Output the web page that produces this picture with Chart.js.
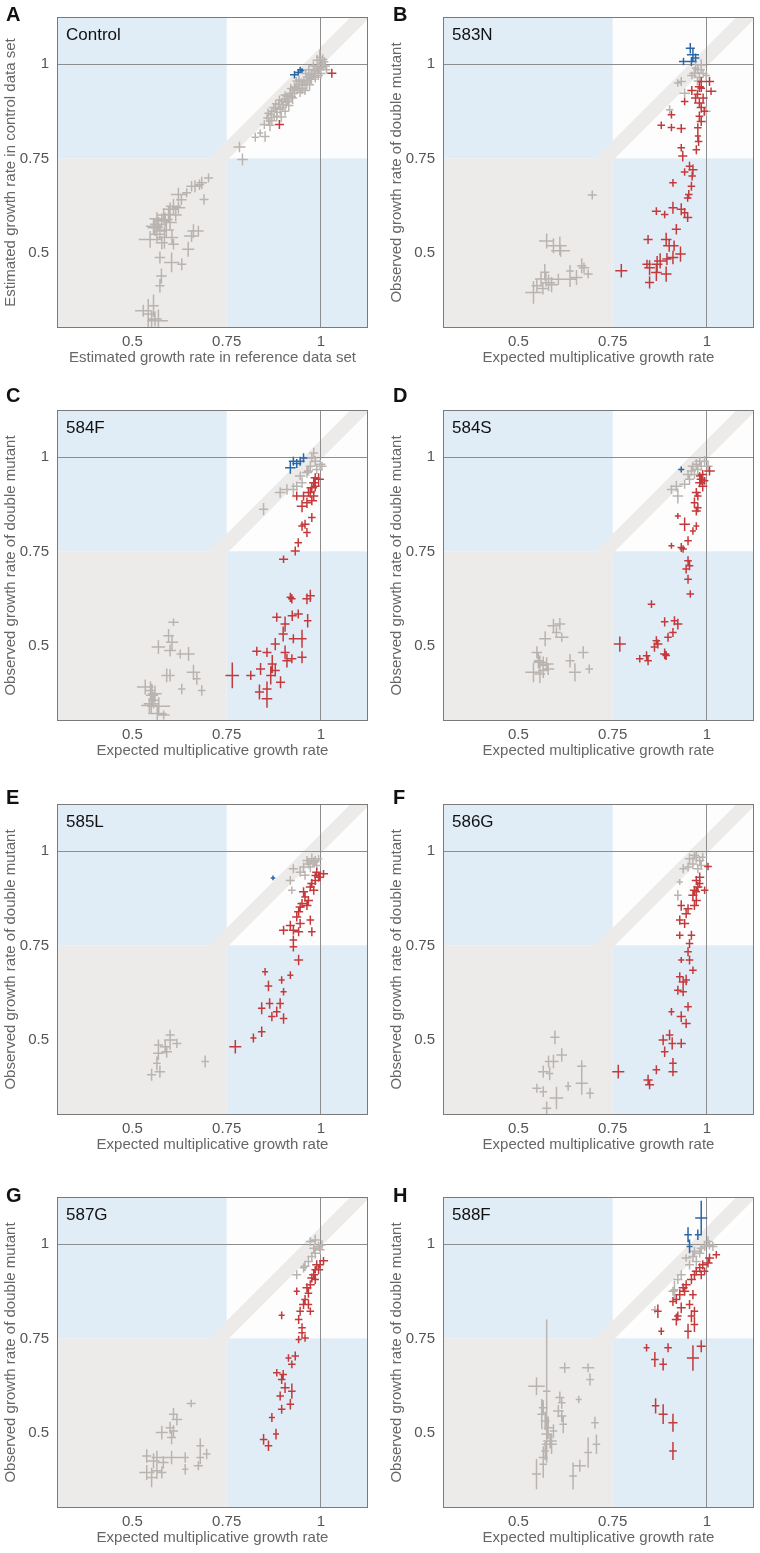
<!DOCTYPE html>
<html>
<head>
<meta charset="utf-8">
<script src="https://cdn.jsdelivr.net/npm/chart.js@4.4.1/dist/chart.umd.min.js"></script>
<style>
  body { margin: 0; background: #fff; width: 760px; height: 1553px; position: relative; overflow: hidden; font-family: "Liberation Sans", Arial, sans-serif; }
  canvas { position: absolute; }
  .letter { position: absolute; font-weight: bold; font-size: 20px; line-height: 1; color: #111; }
</style>
</head>
<body>
<script>
// each point: [x, y, xError, yError]
const tickValues = [0.5, 0.75, 1]
const tickLabels = ['0.5', '0.75', '1']

const A_gray = [
  [0.784,0.780,0.016,0.014],[0.792,0.747,0.014,0.016],[0.826,0.806,0.010,0.012],[0.839,0.817,0.008,0.010],[0.852,0.808,0.012,0.014],
  [0.857,0.857,0.010,0.010],[0.862,0.848,0.008,0.008],[0.868,0.866,0.010,0.012],[0.870,0.875,0.012,0.010],[0.876,0.860,0.010,0.012],
  [0.880,0.884,0.010,0.010],[0.884,0.872,0.008,0.010],[0.888,0.893,0.012,0.012],[0.892,0.880,0.010,0.014],[0.896,0.901,0.010,0.010],
  [0.900,0.892,0.012,0.012],[0.904,0.908,0.010,0.010],[0.908,0.898,0.010,0.012],[0.910,0.915,0.012,0.010],[0.914,0.905,0.010,0.010],
  [0.918,0.923,0.010,0.012],[0.922,0.914,0.012,0.010],[0.926,0.930,0.010,0.010],[0.930,0.922,0.010,0.012],[0.934,0.938,0.012,0.010],
  [0.938,0.930,0.010,0.010],[0.940,0.945,0.010,0.012],[0.944,0.936,0.012,0.012],[0.948,0.952,0.010,0.010],[0.952,0.944,0.010,0.012],
  [0.955,0.958,0.012,0.010],[0.958,0.950,0.010,0.010],[0.962,0.965,0.010,0.012],[0.965,0.956,0.012,0.010],[0.968,0.970,0.010,0.010],
  [0.972,0.962,0.010,0.012],[0.975,0.976,0.012,0.012],[0.978,0.968,0.010,0.010],[0.982,0.982,0.010,0.012],[0.985,0.975,0.012,0.010],
  [0.988,0.988,0.010,0.010],[0.992,0.980,0.010,0.012],[0.995,0.994,0.012,0.012],[0.998,0.986,0.010,0.010],[1.002,1.000,0.012,0.012],
  [1.006,0.992,0.010,0.010],[1.010,1.006,0.010,0.012],[0.915,0.890,0.012,0.015],[0.905,0.875,0.010,0.012],[0.935,0.955,0.010,0.010],
  [0.960,0.975,0.012,0.012],[0.990,1.010,0.012,0.014],[0.945,0.925,0.012,0.012],[0.970,0.945,0.012,0.015],[1.015,0.985,0.010,0.010],
  [0.880,0.895,0.010,0.010],[0.860,0.870,0.010,0.012],[0.850,0.840,0.012,0.012],[0.895,0.860,0.014,0.014],
  [0.870,0.850,0.012,0.012],[0.883,0.862,0.010,0.014],[0.898,0.885,0.012,0.012],[0.912,0.900,0.014,0.012],[0.925,0.910,0.012,0.016],
  [0.930,0.940,0.012,0.012],[0.942,0.958,0.010,0.012],[0.950,0.935,0.014,0.014],[0.963,0.945,0.012,0.012],[0.968,0.985,0.012,0.012],
  [0.975,0.960,0.014,0.014],[0.980,0.995,0.010,0.012],[0.985,0.965,0.012,0.014],[0.993,0.970,0.012,0.012],[1.000,0.975,0.012,0.014],
  [1.005,1.012,0.012,0.014],[0.997,1.018,0.010,0.020],[1.012,0.995,0.012,0.012],[0.958,0.930,0.012,0.012],[0.920,0.935,0.010,0.012],
  [0.905,0.918,0.012,0.010],[0.890,0.905,0.010,0.012],[0.875,0.885,0.012,0.012],[0.865,0.838,0.012,0.016],
  [0.702,0.698,0.012,0.012],[0.684,0.685,0.014,0.016],[0.678,0.680,0.012,0.014],[0.666,0.676,0.018,0.016],[0.657,0.676,0.014,0.014],
  [0.644,0.659,0.012,0.012],[0.622,0.654,0.020,0.018],[0.690,0.641,0.012,0.014],[0.609,0.623,0.020,0.020],[0.622,0.619,0.018,0.016],
  [0.600,0.615,0.020,0.018],[0.596,0.601,0.018,0.020],[0.587,0.588,0.020,0.018],[0.578,0.584,0.020,0.020],[0.569,0.575,0.022,0.020],
  [0.560,0.566,0.020,0.022],[0.573,0.557,0.018,0.020],[0.565,0.549,0.020,0.020],[0.547,0.535,0.030,0.022],[0.578,0.526,0.016,0.018],
  [0.609,0.522,0.014,0.014],[0.662,0.557,0.016,0.018],[0.675,0.557,0.014,0.014],[0.657,0.544,0.020,0.016],[0.648,0.509,0.016,0.020],
  [0.631,0.469,0.012,0.016],[0.604,0.474,0.020,0.026],[0.573,0.487,0.014,0.016],[0.577,0.438,0.014,0.020],[0.573,0.412,0.012,0.018],
  [0.529,0.346,0.022,0.016],[0.542,0.337,0.016,0.040],[0.556,0.359,0.014,0.030],[0.560,0.324,0.018,0.020],[0.569,0.319,0.025,0.030],
  [0.551,0.320,0.012,0.025],[0.556,0.570,0.020,0.020],[0.583,0.600,0.018,0.018],[0.590,0.560,0.020,0.020],[0.600,0.580,0.018,0.020],
  [0.615,0.600,0.016,0.016],[0.630,0.640,0.014,0.014],[0.565,0.590,0.020,0.018],[0.585,0.540,0.020,0.030],[0.605,0.540,0.016,0.020]
]
const A_red = [[0.890,0.840,0.012,0.012],[1.029,0.976,0.012,0.012]]
const A_blue = [[0.930,0.972,0.012,0.010],[0.945,0.985,0.008,0.008],[0.950,0.983,0.006,0.006],[0.940,0.978,0.008,0.008]]

const B_gray = [
  [0.985,0.998,0.012,0.015],[0.976,0.985,0.012,0.012],[0.967,0.976,0.014,0.014],[0.990,0.975,0.012,0.012],[0.998,0.970,0.010,0.012],
  [0.980,0.965,0.012,0.014],[0.932,0.954,0.012,0.012],[0.923,0.950,0.010,0.010],[0.941,0.923,0.014,0.012],[0.901,0.879,0.010,0.012],
  [0.998,0.875,0.012,0.012],[0.970,0.990,0.010,0.012],[0.960,0.970,0.012,0.010],[0.985,0.985,0.010,0.010],[0.975,0.955,0.010,0.012],
  [0.696,0.653,0.012,0.012],[0.575,0.531,0.020,0.020],[0.593,0.518,0.020,0.020],[0.610,0.518,0.018,0.025],[0.612,0.505,0.025,0.016],
  [0.668,0.465,0.012,0.020],[0.674,0.460,0.014,0.014],[0.685,0.443,0.012,0.012],[0.637,0.451,0.010,0.016],[0.654,0.434,0.016,0.020],
  [0.637,0.429,0.015,0.020],[0.606,0.429,0.016,0.015],[0.570,0.448,0.012,0.022],[0.573,0.430,0.020,0.020],[0.580,0.420,0.018,0.022],
  [0.588,0.415,0.016,0.020],[0.540,0.394,0.022,0.030],[0.549,0.412,0.014,0.020],[0.565,0.405,0.016,0.016],[0.560,0.430,0.016,0.020]
]
const B_red = [
  [1.007,0.954,0.012,0.012],[0.985,0.954,0.010,0.012],[0.980,0.940,0.012,0.014],[0.985,0.936,0.010,0.010],[1.011,0.928,0.014,0.010],
  [0.975,0.920,0.010,0.012],[0.970,0.910,0.012,0.012],[0.980,0.897,0.014,0.012],[0.941,0.901,0.010,0.010],[0.985,0.885,0.012,0.014],
  [0.993,0.875,0.010,0.012],[0.980,0.862,0.010,0.012],[0.985,0.848,0.012,0.012],[0.906,0.866,0.010,0.010],[0.879,0.838,0.010,0.010],
  [0.906,0.832,0.010,0.010],[0.932,0.829,0.012,0.012],[0.976,0.831,0.010,0.012],[0.976,0.809,0.008,0.012],[0.978,0.795,0.010,0.012],
  [0.972,0.773,0.010,0.012],[0.932,0.778,0.010,0.010],[0.936,0.756,0.012,0.014],[0.954,0.729,0.010,0.012],[0.941,0.714,0.010,0.010],
  [0.963,0.720,0.012,0.014],[0.961,0.703,0.010,0.012],[0.910,0.685,0.010,0.010],[0.959,0.676,0.010,0.012],[0.952,0.654,0.010,0.012],
  [0.949,0.645,0.010,0.010],[0.910,0.619,0.012,0.016],[0.866,0.610,0.012,0.010],[0.888,0.601,0.010,0.010],[0.932,0.615,0.012,0.016],
  [0.941,0.606,0.010,0.012],[0.949,0.593,0.012,0.012],[0.919,0.562,0.012,0.014],[0.844,0.535,0.012,0.012],[0.892,0.535,0.014,0.018],
  [0.900,0.518,0.016,0.016],[0.913,0.518,0.012,0.014],[0.930,0.496,0.014,0.020],[0.910,0.487,0.014,0.018],[0.876,0.478,0.016,0.020],
  [0.868,0.469,0.014,0.022],[0.894,0.483,0.012,0.016],[0.841,0.469,0.012,0.012],[0.773,0.452,0.016,0.018],[0.848,0.460,0.014,0.020],
  [0.866,0.447,0.014,0.022],[0.892,0.443,0.014,0.020],[0.848,0.421,0.012,0.016],[0.990,0.910,0.012,0.012],[0.960,0.930,0.012,0.012]
]
const B_blue = [[0.956,1.042,0.012,0.014],[0.963,1.025,0.016,0.016],[0.938,1.007,0.012,0.010],[0.959,1.007,0.014,0.012],[0.970,1.016,0.010,0.012]]

const C_gray = [
  [0.981,1.011,0.012,0.014],[0.976,0.998,0.014,0.012],[0.985,0.989,0.012,0.014],[0.998,0.981,0.014,0.012],[0.972,0.976,0.012,0.014],
  [0.963,0.959,0.014,0.014],[0.967,0.963,0.012,0.012],[0.945,0.950,0.014,0.012],[0.950,0.932,0.012,0.014],[0.936,0.923,0.014,0.012],
  [0.927,0.914,0.012,0.016],[0.892,0.906,0.014,0.014],[0.910,0.914,0.016,0.014],[0.848,0.862,0.012,0.016],[0.989,0.967,0.012,0.012],
  [1.003,0.976,0.012,0.012],
  [0.609,0.562,0.014,0.010],[0.596,0.526,0.014,0.018],[0.605,0.509,0.016,0.020],[0.569,0.496,0.018,0.018],[0.600,0.487,0.016,0.016],
  [0.627,0.478,0.010,0.012],[0.649,0.478,0.016,0.018],[0.662,0.429,0.018,0.020],[0.671,0.412,0.010,0.016],[0.600,0.421,0.012,0.016],
  [0.591,0.421,0.014,0.018],[0.631,0.385,0.010,0.014],[0.684,0.381,0.010,0.014],[0.534,0.390,0.022,0.020],[0.548,0.381,0.014,0.024],
  [0.552,0.368,0.016,0.030],[0.556,0.355,0.014,0.022],[0.550,0.346,0.020,0.026],[0.545,0.341,0.022,0.020],[0.566,0.320,0.024,0.020],
  [0.583,0.316,0.016,0.012],[0.570,0.339,0.030,0.024],[0.560,0.372,0.018,0.022]
]
const C_red = [
  [0.994,0.941,0.014,0.016],[0.981,0.932,0.012,0.014],[0.985,0.923,0.012,0.014],[0.976,0.919,0.014,0.014],[0.967,0.906,0.012,0.012],
  [0.981,0.897,0.012,0.014],[0.954,0.897,0.012,0.012],[0.976,0.884,0.014,0.012],[0.963,0.879,0.012,0.014],[0.950,0.870,0.014,0.016],
  [0.976,0.840,0.010,0.012],[0.958,0.822,0.012,0.012],[0.950,0.817,0.010,0.012],[0.963,0.800,0.010,0.012],[0.940,0.773,0.010,0.012],
  [0.932,0.751,0.012,0.012],[0.901,0.729,0.012,0.010],[0.985,0.945,0.012,0.012],[0.972,0.906,0.012,0.014],[0.936,0.897,0.012,0.012],
  [0.919,0.628,0.010,0.012],[0.923,0.624,0.010,0.012],[0.972,0.632,0.012,0.016],[0.963,0.624,0.012,0.014],[0.883,0.575,0.012,0.012],
  [0.924,0.579,0.012,0.014],[0.940,0.584,0.012,0.012],[0.905,0.557,0.012,0.020],[0.965,0.566,0.010,0.018],[0.900,0.531,0.012,0.020],
  [0.950,0.518,0.012,0.024],[0.927,0.518,0.012,0.012],[0.879,0.504,0.012,0.016],[0.830,0.485,0.012,0.012],[0.857,0.482,0.012,0.012],
  [0.905,0.482,0.012,0.018],[0.910,0.460,0.012,0.018],[0.923,0.465,0.012,0.012],[0.950,0.469,0.012,0.016],[0.871,0.451,0.012,0.024],
  [0.840,0.438,0.012,0.016],[0.879,0.434,0.012,0.016],[0.867,0.421,0.012,0.024],[0.814,0.421,0.012,0.012],[0.765,0.421,0.018,0.034],
  [0.893,0.403,0.012,0.016],[0.857,0.385,0.012,0.020],[0.837,0.377,0.012,0.020],[0.857,0.359,0.014,0.024]
]
const C_blue = [[0.927,0.989,0.012,0.012],[0.945,0.989,0.012,0.012],[0.919,0.972,0.014,0.016],[0.954,0.998,0.010,0.012],[0.936,0.983,0.012,0.012]]

const D_gray = [
  [0.981,0.989,0.014,0.012],[0.972,0.981,0.012,0.014],[0.963,0.976,0.014,0.012],[0.985,0.976,0.012,0.012],[0.959,0.963,0.012,0.014],
  [0.950,0.954,0.014,0.012],[0.954,0.941,0.012,0.014],[0.941,0.928,0.014,0.012],[0.919,0.923,0.016,0.014],[0.906,0.914,0.012,0.012],
  [0.923,0.897,0.014,0.020],[0.967,0.954,0.012,0.012],[0.976,0.967,0.012,0.012],[0.994,0.989,0.012,0.014],[1.003,0.976,0.012,0.012],
  [0.593,0.553,0.016,0.018],[0.610,0.557,0.014,0.016],[0.601,0.535,0.012,0.014],[0.615,0.522,0.018,0.012],[0.571,0.518,0.016,0.020],
  [0.672,0.482,0.014,0.016],[0.637,0.460,0.012,0.018],[0.688,0.438,0.010,0.012],[0.650,0.429,0.016,0.024],[0.549,0.482,0.014,0.016],
  [0.553,0.460,0.012,0.020],[0.557,0.456,0.016,0.018],[0.566,0.447,0.014,0.024],[0.575,0.451,0.018,0.018],[0.579,0.438,0.016,0.016],
  [0.540,0.429,0.022,0.026],[0.557,0.425,0.014,0.024],[0.566,0.434,0.014,0.020]
]
const D_red = [
  [1.007,0.963,0.014,0.012],[0.989,0.954,0.012,0.012],[0.985,0.941,0.012,0.014],[0.981,0.932,0.012,0.012],[0.989,0.923,0.012,0.014],
  [0.972,0.906,0.012,0.012],[0.976,0.897,0.010,0.012],[0.967,0.879,0.010,0.014],[0.976,0.866,0.010,0.012],[0.972,0.857,0.012,0.012],
  [0.923,0.844,0.008,0.008],[0.941,0.822,0.014,0.018],[0.972,0.817,0.008,0.010],[0.963,0.804,0.008,0.010],[0.950,0.778,0.010,0.012],
  [0.932,0.760,0.010,0.012],[0.906,0.765,0.008,0.008],[0.937,0.756,0.010,0.010],[0.950,0.725,0.010,0.012],[0.954,0.712,0.010,0.012],
  [0.945,0.703,0.010,0.012],[0.950,0.676,0.010,0.012],[0.956,0.637,0.010,0.010],[0.853,0.610,0.010,0.010],[0.888,0.563,0.010,0.012],
  [0.914,0.566,0.010,0.012],[0.923,0.557,0.012,0.014],[0.910,0.535,0.010,0.012],[0.897,0.522,0.010,0.012],[0.866,0.513,0.010,0.012],
  [0.870,0.504,0.012,0.012],[0.861,0.496,0.010,0.012],[0.769,0.504,0.016,0.020],[0.888,0.478,0.012,0.014],[0.892,0.474,0.010,0.012],
  [0.840,0.473,0.010,0.012],[0.822,0.465,0.010,0.010],[0.844,0.460,0.010,0.012],[0.981,0.950,0.010,0.010],[0.994,0.937,0.010,0.010]
]
const D_blue = [[0.932,0.967,0.008,0.008]]

const E_gray = [
  [0.976,0.980,0.012,0.014],[0.985,0.975,0.012,0.012],[0.967,0.966,0.014,0.012],[0.989,0.962,0.012,0.012],[0.972,0.958,0.012,0.014],
  [0.954,0.958,0.012,0.012],[0.927,0.953,0.012,0.012],[0.945,0.944,0.012,0.012],[0.958,0.936,0.012,0.012],[0.919,0.922,0.012,0.012],
  [0.923,0.896,0.010,0.010],[0.981,0.971,0.012,0.012],[0.994,0.980,0.010,0.010],[0.963,0.975,0.012,0.012],
  [0.600,0.499,0.016,0.026],[0.618,0.490,0.012,0.012],[0.587,0.481,0.014,0.018],[0.569,0.486,0.012,0.014],[0.569,0.464,0.014,0.018],
  [0.565,0.437,0.010,0.018],[0.573,0.415,0.014,0.016],[0.551,0.407,0.012,0.016],[0.693,0.442,0.010,0.016],[0.591,0.468,0.014,0.016],
  [0.600,0.512,0.012,0.014]
]
const E_red = [
  [1.007,0.940,0.012,0.010],[0.989,0.944,0.012,0.012],[0.994,0.931,0.012,0.012],[0.985,0.922,0.012,0.012],[0.976,0.914,0.012,0.012],
  [0.972,0.905,0.012,0.012],[0.981,0.896,0.012,0.012],[0.954,0.892,0.012,0.012],[0.958,0.878,0.010,0.012],[0.967,0.869,0.012,0.012],
  [0.950,0.861,0.012,0.012],[0.963,0.856,0.012,0.012],[0.945,0.852,0.012,0.012],[0.941,0.839,0.012,0.012],[0.936,0.825,0.012,0.012],
  [0.972,0.817,0.010,0.012],[0.945,0.808,0.012,0.012],[0.919,0.803,0.012,0.012],[0.901,0.790,0.012,0.012],[0.927,0.790,0.012,0.012],
  [0.941,0.786,0.012,0.012],[0.976,0.786,0.010,0.012],[0.927,0.764,0.010,0.012],[0.927,0.746,0.010,0.012],[0.941,0.711,0.012,0.014],
  [0.919,0.671,0.008,0.010],[0.896,0.658,0.008,0.010],[0.852,0.680,0.008,0.010],[0.861,0.642,0.010,0.014],[0.901,0.627,0.008,0.010],
  [0.864,0.596,0.010,0.014],[0.892,0.596,0.010,0.014],[0.843,0.583,0.010,0.016],[0.883,0.574,0.010,0.014],[0.870,0.561,0.010,0.012],
  [0.901,0.556,0.010,0.014],[0.843,0.521,0.010,0.014],[0.821,0.504,0.008,0.012],[0.773,0.481,0.016,0.018],[0.998,0.931,0.010,0.010],
  [0.985,0.935,0.010,0.010]
]
const E_blue = [[0.873,0.929,0.006,0.006]]

const F_gray = [
  [0.954,0.980,0.012,0.014],[0.972,0.984,0.012,0.014],[0.981,0.975,0.012,0.012],[0.963,0.966,0.012,0.014],[0.985,0.962,0.012,0.012],
  [0.976,0.953,0.012,0.012],[0.937,0.953,0.010,0.012],[0.928,0.918,0.008,0.008],[0.923,0.883,0.010,0.014],[0.950,0.958,0.010,0.012],
  [0.989,0.984,0.012,0.012],[0.967,0.989,0.012,0.012],
  [0.597,0.506,0.012,0.018],[0.615,0.459,0.014,0.018],[0.593,0.442,0.014,0.018],[0.580,0.442,0.010,0.016],[0.566,0.415,0.014,0.016],
  [0.583,0.410,0.010,0.018],[0.668,0.429,0.012,0.016],[0.668,0.384,0.016,0.030],[0.632,0.376,0.008,0.012],[0.690,0.358,0.010,0.014],
  [0.549,0.371,0.012,0.012],[0.566,0.362,0.010,0.014],[0.601,0.345,0.018,0.030],[0.575,0.318,0.012,0.018]
]
const F_red = [
  [1.003,0.959,0.010,0.010],[0.981,0.931,0.012,0.012],[0.972,0.922,0.012,0.012],[0.976,0.905,0.012,0.014],[0.967,0.896,0.012,0.012],
  [0.994,0.896,0.010,0.010],[0.963,0.883,0.012,0.012],[0.972,0.869,0.012,0.012],[0.967,0.856,0.012,0.012],[0.950,0.847,0.012,0.012],
  [0.932,0.856,0.010,0.014],[0.928,0.817,0.010,0.012],[0.941,0.808,0.012,0.012],[0.945,0.834,0.012,0.012],[0.959,0.777,0.010,0.012],
  [0.928,0.777,0.010,0.010],[0.954,0.755,0.010,0.012],[0.950,0.733,0.010,0.012],[0.932,0.711,0.008,0.008],[0.954,0.711,0.010,0.012],
  [0.963,0.684,0.010,0.010],[0.928,0.667,0.010,0.012],[0.937,0.653,0.012,0.014],[0.945,0.658,0.010,0.014],[0.923,0.631,0.010,0.012],
  [0.937,0.627,0.010,0.012],[0.906,0.574,0.008,0.010],[0.950,0.587,0.010,0.012],[0.932,0.561,0.012,0.014],[0.945,0.543,0.012,0.012],
  [0.901,0.512,0.010,0.014],[0.884,0.499,0.012,0.014],[0.908,0.490,0.010,0.016],[0.932,0.490,0.012,0.012],[0.888,0.468,0.010,0.014],
  [0.910,0.437,0.010,0.014],[0.866,0.420,0.010,0.012],[0.844,0.393,0.012,0.014],[0.848,0.380,0.012,0.012],[0.910,0.415,0.012,0.012],
  [0.765,0.415,0.016,0.018],[0.981,0.914,0.010,0.012],[0.972,0.892,0.010,0.012]
]
const F_blue = []

const G_gray = [
  [0.972,1.007,0.012,0.012],[0.985,1.011,0.012,0.014],[0.994,0.994,0.012,0.012],[0.998,0.985,0.012,0.012],[0.985,0.976,0.012,0.014],
  [0.976,0.967,0.012,0.012],[0.967,0.954,0.012,0.012],[0.958,0.941,0.012,0.012],[0.954,0.937,0.010,0.012],[0.936,0.919,0.012,0.012],
  [1.003,0.998,0.010,0.012],[0.981,0.989,0.012,0.012],
  [0.656,0.577,0.012,0.010],[0.609,0.549,0.012,0.016],[0.618,0.535,0.014,0.016],[0.600,0.513,0.012,0.016],[0.609,0.504,0.012,0.016],
  [0.578,0.500,0.016,0.018],[0.604,0.487,0.012,0.018],[0.538,0.438,0.012,0.018],[0.556,0.425,0.016,0.020],[0.565,0.434,0.014,0.018],
  [0.582,0.421,0.014,0.016],[0.604,0.434,0.030,0.018],[0.640,0.434,0.010,0.014],[0.640,0.403,0.008,0.014],[0.680,0.465,0.010,0.020],
  [0.680,0.434,0.010,0.018],[0.697,0.443,0.010,0.014],[0.675,0.412,0.012,0.012],[0.538,0.394,0.020,0.020],[0.551,0.381,0.012,0.026],
  [0.565,0.399,0.012,0.022],[0.578,0.394,0.012,0.016]
]
const G_red = [
  [1.007,0.956,0.012,0.010],[0.989,0.945,0.012,0.012],[0.994,0.932,0.012,0.012],[0.981,0.919,0.012,0.012],[0.976,0.910,0.012,0.012],
  [0.985,0.906,0.010,0.012],[0.972,0.892,0.012,0.012],[0.963,0.884,0.012,0.012],[0.967,0.870,0.010,0.012],[0.936,0.875,0.008,0.010],
  [0.958,0.853,0.010,0.012],[0.954,0.840,0.012,0.012],[0.967,0.840,0.010,0.012],[0.972,0.822,0.010,0.010],[0.945,0.822,0.010,0.012],
  [0.941,0.800,0.010,0.012],[0.896,0.811,0.008,0.010],[0.950,0.778,0.010,0.012],[0.950,0.765,0.010,0.012],[0.958,0.751,0.010,0.010],
  [0.941,0.747,0.008,0.010],[0.932,0.703,0.010,0.012],[0.914,0.698,0.008,0.010],[0.923,0.681,0.010,0.010],[0.883,0.659,0.010,0.010],
  [0.900,0.654,0.010,0.012],[0.896,0.641,0.010,0.012],[0.905,0.619,0.012,0.014],[0.923,0.610,0.010,0.020],[0.892,0.597,0.010,0.012],
  [0.919,0.575,0.010,0.014],[0.896,0.562,0.010,0.012],[0.870,0.540,0.008,0.012],[0.881,0.496,0.008,0.014],[0.848,0.482,0.010,0.014],
  [0.861,0.465,0.010,0.014],[0.998,0.945,0.010,0.010],[0.985,0.932,0.010,0.010]
]
const G_blue = []

const H_gray = [
  [1.003,1.007,0.012,0.014],[0.994,0.994,0.012,0.012],[0.985,0.989,0.012,0.012],[0.981,0.976,0.012,0.012],[1.007,0.998,0.012,0.012],
  [0.967,0.981,0.012,0.012],[0.963,0.967,0.012,0.012],[0.945,0.963,0.012,0.010],[0.954,0.945,0.012,0.012],[0.932,0.919,0.012,0.012],
  [0.923,0.906,0.012,0.012],[0.914,0.879,0.010,0.024],[0.910,0.875,0.012,0.012],[0.862,0.826,0.010,0.010],[0.972,0.954,0.012,0.012],
  [1.016,0.994,0.012,0.012],
  [0.548,0.623,0.022,0.024],[0.575,0.610,0.010,0.190],[0.562,0.549,0.012,0.040],[0.566,0.566,0.012,0.020],[0.571,0.531,0.012,0.024],
  [0.579,0.513,0.012,0.030],[0.575,0.496,0.014,0.024],[0.584,0.478,0.018,0.020],[0.575,0.469,0.012,0.020],[0.571,0.451,0.010,0.024],
  [0.566,0.434,0.012,0.030],[0.588,0.469,0.014,0.026],[0.593,0.504,0.010,0.018],[0.610,0.593,0.012,0.016],[0.615,0.579,0.010,0.016],
  [0.623,0.672,0.014,0.014],[0.606,0.557,0.014,0.016],[0.619,0.522,0.010,0.024],[0.615,0.544,0.012,0.016],[0.660,0.588,0.008,0.010],
  [0.685,0.672,0.016,0.012],[0.690,0.641,0.010,0.016],[0.703,0.526,0.010,0.016],[0.707,0.469,0.010,0.026],[0.685,0.447,0.010,0.040],
  [0.663,0.412,0.016,0.016],[0.645,0.385,0.010,0.036],[0.548,0.390,0.012,0.040],[0.566,0.416,0.010,0.036]
]
const H_red = [
  [1.025,0.972,0.010,0.010],[1.007,0.963,0.012,0.012],[1.003,0.950,0.012,0.012],[0.989,0.945,0.012,0.012],[0.981,0.937,0.012,0.012],
  [0.972,0.928,0.012,0.012],[0.967,0.919,0.012,0.012],[0.959,0.906,0.012,0.012],[0.945,0.892,0.012,0.012],[0.937,0.884,0.012,0.012],
  [0.928,0.866,0.012,0.014],[0.963,0.866,0.010,0.012],[0.941,0.875,0.012,0.012],[0.910,0.848,0.010,0.012],[0.919,0.853,0.010,0.012],
  [0.932,0.831,0.012,0.014],[0.923,0.809,0.010,0.012],[0.919,0.800,0.012,0.016],[0.954,0.840,0.010,0.012],[0.967,0.822,0.010,0.012],
  [0.959,0.809,0.010,0.016],[0.967,0.787,0.010,0.020],[0.950,0.769,0.010,0.020],[0.985,0.729,0.012,0.016],[0.870,0.822,0.010,0.018],
  [0.879,0.769,0.008,0.010],[0.840,0.725,0.008,0.010],[0.897,0.725,0.010,0.012],[0.862,0.694,0.010,0.020],[0.884,0.681,0.010,0.016],
  [0.963,0.698,0.016,0.034],[0.864,0.571,0.010,0.020],[0.884,0.549,0.012,0.026],[0.910,0.526,0.012,0.024],[0.910,0.451,0.010,0.024],
  [0.994,0.928,0.010,0.010],[0.985,0.919,0.010,0.012]
]
const H_blue = [[0.985,1.069,0.016,0.046],[0.950,1.025,0.010,0.020],[0.976,1.025,0.008,0.014],[0.954,0.994,0.008,0.018]]

const panelLetters = ['A', 'B', 'C', 'D', 'E', 'F', 'G', 'H']
const panelNames = ['Control', '583N', '584F', '584S', '585L', '586G', '587G', '588F']
const grayData = [A_gray, B_gray, C_gray, D_gray, E_gray, F_gray, G_gray, H_gray]
const redData = [A_red, B_red, C_red, D_red, E_red, F_red, G_red, H_red]
const blueData = [A_blue, B_blue, C_blue, D_blue, E_blue, F_blue, G_blue, H_blue]

const xTitles = ['Estimated growth rate in reference data set'].concat(Array(7).fill('Expected multiplicative growth rate'))
const yTitles = ['Estimated growth rate in control data set'].concat(Array(7).fill('Observed growth rate of double mutant'))

const GRAY = '#bab4b0'
const RED = '#c43a3c'
const BLUE = '#2a67a6'
const SHADE = '#ecebea'
const AXIS_MIN = 0.3
const AXIS_MAX = 1.125
const CUT = 0.75

const canvasTops = [0, 393.3, 786.7, 1180.3]
const letterPos = [[6, 4], [393, 4], [6, 385], [393, 385], [6, 787], [393, 787], [6, 1185], [393, 1185]]

Chart.defaults.font.family = '"Liberation Sans", Arial, sans-serif'

const toPoints = (rows) => rows.map((r) => ({ x: r[0], y: r[1], ex: r[2], ey: r[3] }))

// shaded quadrants and the diagonal band behind the data
const backdrop = {
  id: 'backdrop',
  beforeDraw(chart) {
    const { ctx, chartArea: a, scales } = chart
    const x = scales.x
    const y = scales.y
    const cx = x.getPixelForValue(CUT)
    const cy = y.getPixelForValue(CUT)
    ctx.save()
    ctx.beginPath()
    ctx.rect(a.left, a.top, a.width, a.height)
    ctx.clip()
    ctx.fillStyle = '#fdfdfd'
    ctx.fillRect(a.left, a.top, a.width, a.height)
    ctx.fillStyle = '#e0ecf6'
    ctx.fillRect(a.left, a.top, cx - a.left, cy - a.top)
    ctx.fillRect(cx, cy, a.right - cx, a.bottom - cy)
    ctx.fillStyle = SHADE
    ctx.fillRect(a.left, cy, cx - a.left, a.bottom - cy)
    // band just above the line of equality
    const lo = -0.006
    const hi = 0.046
    const from = 0.7
    ctx.beginPath()
    ctx.moveTo(x.getPixelForValue(from), y.getPixelForValue(from + lo))
    ctx.lineTo(x.getPixelForValue(1.3), y.getPixelForValue(1.3 + lo))
    ctx.lineTo(x.getPixelForValue(1.3), y.getPixelForValue(1.3 + hi))
    ctx.lineTo(x.getPixelForValue(from), y.getPixelForValue(from + hi))
    ctx.closePath()
    ctx.fill()
    ctx.restore()
  },
}

// horizontal and vertical error bars around each point
const errorBars = {
  id: 'errorBars',
  afterDatasetsDraw(chart) {
    const { ctx, chartArea: a, scales } = chart
    ctx.save()
    ctx.beginPath()
    ctx.rect(a.left, a.top, a.width, a.height)
    ctx.clip()
    ctx.lineWidth = 1.5
    for (const i of [2, 1, 0]) {
      const ds = chart.data.datasets[i]
      const meta = chart.getDatasetMeta(i)
      ctx.strokeStyle = ds.borderColor
      ctx.beginPath()
      meta.data.forEach((pt, j) => {
        const d = ds.data[j]
        ctx.moveTo(scales.x.getPixelForValue(d.x - d.ex), pt.y)
        ctx.lineTo(scales.x.getPixelForValue(d.x + d.ex), pt.y)
        ctx.moveTo(pt.x, scales.y.getPixelForValue(d.y - d.ey))
        ctx.lineTo(pt.x, scales.y.getPixelForValue(d.y + d.ey))
      })
      ctx.stroke()
    }
    ctx.restore()
  },
}

// box round the plot and the panel name
const frame = {
  id: 'frame',
  afterDraw(chart, args, opts) {
    const { ctx, chartArea: a } = chart
    ctx.save()
    ctx.strokeStyle = '#7a7a7a'
    ctx.lineWidth = 1
    ctx.strokeRect(a.left + 0.5, a.top + 0.5, a.width - 1, a.height - 1)
    ctx.fillStyle = '#111'
    ctx.font = '17px "Liberation Sans", Arial, sans-serif'
    ctx.textBaseline = 'alphabetic'
    ctx.fillText(opts.text, a.left + 9, a.top + 23)
    ctx.restore()
  },
}

const gridAtOne = (c) => (c.tick && c.tick.value === 1 ? '#8d8d8d' : 'rgba(0,0,0,0)')

panelLetters.forEach((letter, i) => {
  const col = i % 2
  const row = Math.floor(i / 2)

  const canvas = document.createElement('canvas')
  canvas.width = 380
  canvas.height = 372
  canvas.style.left = col * 380 + 'px'
  canvas.style.top = canvasTops[row] + 'px'
  document.body.appendChild(canvas)

  const label = document.createElement('div')
  label.className = 'letter'
  label.textContent = letter
  label.style.left = letterPos[i][0] + 'px'
  label.style.top = letterPos[i][1] + 'px'
  document.body.appendChild(label)

  new Chart(canvas, {
    type: 'scatter',
    data: {
      datasets: [
        { label: 'blue', data: toPoints(blueData[i]), borderColor: BLUE, backgroundColor: BLUE },
        { label: 'red', data: toPoints(redData[i]), borderColor: RED, backgroundColor: RED },
        { label: 'gray', data: toPoints(grayData[i]), borderColor: GRAY, backgroundColor: GRAY },
      ],
    },
    options: {
      responsive: false,
      animation: false,
      events: [],
      layout: { padding: { left: col ? 6 : 0, right: col ? 6 : 12, top: 15, bottom: 0 } },
      elements: { point: { radius: 0, hoverRadius: 0 } },
      scales: {
        x: {
          type: 'linear',
          min: AXIS_MIN,
          max: AXIS_MAX,
          afterBuildTicks: (s) => { s.ticks = tickValues.map((v) => ({ value: v })) },
          afterFit: (s) => { s.height = 44 },
          grid: { color: gridAtOne, drawTicks: false, lineWidth: 1 },
          border: { display: false },
          ticks: { padding: 5, color: '#555', font: { size: 15 }, maxRotation: 0, callback: (v, idx) => tickLabels[idx] },
          title: { display: true, text: xTitles[i], color: '#666', font: { size: 15 }, padding: { top: 0, bottom: 5 } },
        },
        y: {
          type: 'linear',
          min: AXIS_MIN,
          max: AXIS_MAX,
          afterBuildTicks: (s) => { s.ticks = tickValues.map((v) => ({ value: v })) },
          afterFit: (s) => { s.width = 57 },
          grid: { color: gridAtOne, drawTicks: false, lineWidth: 1 },
          border: { display: false },
          ticks: { padding: 8, color: '#555', font: { size: 15 }, callback: (v, idx) => tickLabels[idx] },
          title: { display: true, text: yTitles[i], color: '#666', font: { size: 15 }, padding: { top: 2, bottom: 0 } },
        },
      },
      plugins: {
        legend: { display: false },
        tooltip: { enabled: false },
        frame: { text: panelNames[i] },
      },
    },
    plugins: [backdrop, errorBars, frame],
  })
})
</script>
</body>
</html>
